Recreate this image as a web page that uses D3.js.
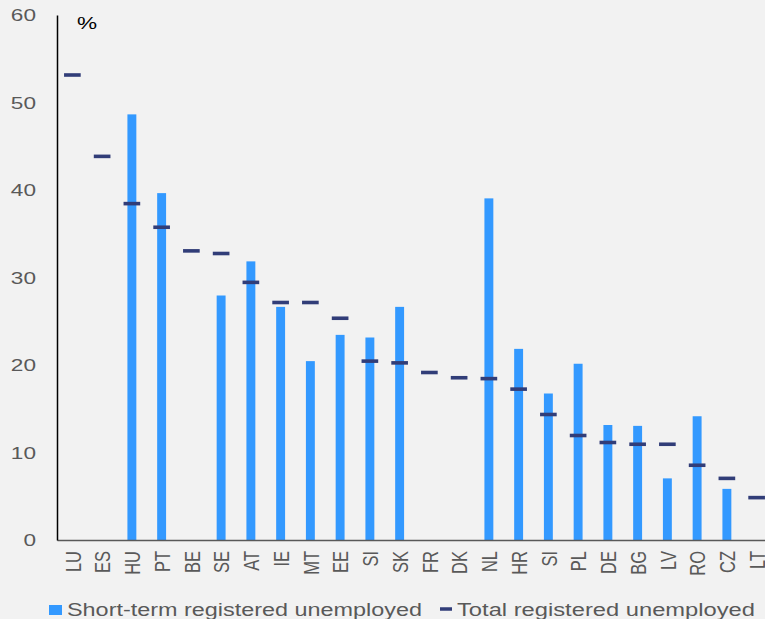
<!DOCTYPE html>
<html><head><meta charset="utf-8">
<script src="https://cdn.jsdelivr.net/npm/d3@7"></script>
<style>
html,body{margin:0;padding:0;background:#f2f2f2;}
svg{display:block;font-family:"Liberation Sans",Arial,sans-serif;}
</style></head>
<body>
<svg id="c" width="765" height="619"></svg>
<script>
const categories = ["LU","ES","HU","PT","BE","SE","AT","IE","MT","EE","SI","SK","FR","DK","NL","HR","SI","PL","DE","BG","LV","RO","CZ","LT"];
const shortTerm = [null,null,48.7,39.7,null,28.0,31.9,26.7,20.5,23.5,23.2,26.7,null,null,39.1,21.9,16.8,20.2,13.2,13.1,7.1,14.2,5.9,null];
const total = [53.2,43.9,38.5,35.8,33.1,32.8,29.5,27.2,27.2,25.4,20.5,20.3,19.2,18.6,18.5,17.3,14.4,12.0,11.2,11.0,11.0,8.6,7.1,4.9];
const yTicks = [0,10,20,30,40,50,60];
const seriesNames = ["Short-term registered unemployed","Total registered unemployed"];
const colors = ["#3399ff","#313d78"];

const svg = d3.select("#c");
const sx = 1.37; // horizontal stretch of text in reference
const keys = categories.map((c,i)=>i);
const x = d3.scaleBand().domain(keys).range([57.5, 771.5]).padding(0);
const y = d3.scaleLinear().domain([0,60]).range([540.5, 15.5]);

// bars
svg.append("g").selectAll("rect").data(keys.filter(i=>shortTerm[i]!=null)).join("rect")
  .attr("x", i => x(i) + x.bandwidth()/2 - x.bandwidth()*0.15)
  .attr("width", x.bandwidth()*0.3)
  .attr("y", i => y(shortTerm[i]))
  .attr("height", i => y(0) - y(shortTerm[i]))
  .attr("fill", colors[0]);

// dashes
svg.append("g").selectAll("line").data(keys).join("line")
  .attr("x1", i => x(i) + x.bandwidth()/2 - x.bandwidth()*0.28)
  .attr("x2", i => x(i) + x.bandwidth()/2 + x.bandwidth()*0.28)
  .attr("y1", i => y(total[i])).attr("y2", i => y(total[i]))
  .attr("stroke", colors[1]).attr("stroke-width", 3.6);

// axes lines
svg.append("line").attr("x1",57.5).attr("x2",771.5).attr("y1",y(0)).attr("y2",y(0))
  .attr("stroke","#595959").attr("stroke-width",1.5);
svg.append("line").attr("x1",57.5).attr("x2",57.5).attr("y1",y(60)).attr("y2",y(0))
  .attr("stroke","#000").attr("stroke-width",1.5);

// y tick labels
svg.append("g").selectAll("text").data(yTicks).join("text")
  .attr("transform", d => `translate(36,${y(d)}) scale(${sx},1)`)
  .attr("text-anchor","end").attr("dy","0.36em")
  .attr("font-size",16.5).attr("fill","#595959").text(d=>d);

// % label
svg.append("text").attr("transform",`translate(77,29) scale(${sx},1)`)
  .attr("font-size",16.5).attr("fill","#000").text("%");

// category labels
svg.append("g").selectAll("text").data(keys).join("text")
  .attr("transform", i => `translate(${x(i)+x.bandwidth()/2},551) scale(${sx},1) rotate(-90)`)
  .attr("text-anchor","end").attr("dy","0.36em")
  .attr("font-size",16.5).attr("fill","#595959").text(i=>categories[i]);

// legend
svg.append("rect").attr("x",49).attr("y",605).attr("width",13).attr("height",10).attr("fill",colors[0]);
svg.append("text").attr("x",67).attr("y",615.5).attr("font-size",17.5).attr("fill","#595959")
  .attr("textLength",355).attr("lengthAdjust","spacingAndGlyphs").text(seriesNames[0]);
svg.append("line").attr("x1",440).attr("x2",452).attr("y1",609).attr("y2",609)
  .attr("stroke",colors[1]).attr("stroke-width",3.5);
svg.append("text").attr("x",457).attr("y",615.5).attr("font-size",17.5).attr("fill","#595959")
  .attr("textLength",298).attr("lengthAdjust","spacingAndGlyphs").text(seriesNames[1]);
</script>
</body></html>
